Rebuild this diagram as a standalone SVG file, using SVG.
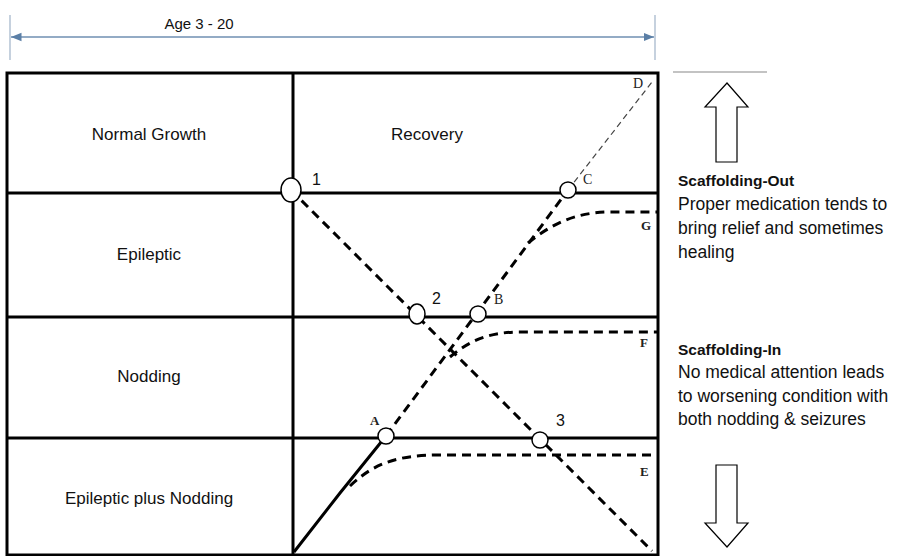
<svg xmlns="http://www.w3.org/2000/svg" width="899" height="556" viewBox="0 0 899 556">
<defs>
<style>
.lbl{font-family:"Liberation Sans",Arial,sans-serif;font-size:17px;fill:#111;text-anchor:middle}
.rt{font-family:"Liberation Sans",Arial,sans-serif;font-size:17.5px;fill:#111}
.rb{font-family:"Liberation Sans",Arial,sans-serif;font-size:15.5px;font-weight:bold;fill:#111}
.num{font-family:"Liberation Sans",Arial,sans-serif;font-size:16px;fill:#111}
.ser{font-family:"Liberation Serif","Times New Roman",serif;font-size:14px;fill:#222}
.serb{font-family:"Liberation Serif","Times New Roman",serif;font-size:13px;font-weight:bold;fill:#222}
.grid{stroke:#000;stroke-width:3;fill:none}
.dash{stroke:#000;stroke-width:3;fill:none;stroke-dasharray:9 6}
.thin{stroke:#444;stroke-width:1.2;fill:none;stroke-dasharray:6 4}
.pt{fill:#fff;stroke:#000;stroke-width:1.5}
.blk{fill:#fff;stroke:#000;stroke-width:1.2}
</style>
<marker id="ah" viewBox="0 0 10 10" refX="10" refY="5" markerWidth="7" markerHeight="7" orient="auto-start-reverse">
<path d="M0,1 L10,5 L0,9 z" fill="#5b7fa6"/>
</marker>
</defs>

<g id="age">
<line x1="10" y1="15" x2="10" y2="60" stroke="#9fb3c8" stroke-width="1.2"/>
<line x1="655" y1="15" x2="655" y2="60" stroke="#9fb3c8" stroke-width="1.2"/>
<line x1="11" y1="37" x2="654" y2="37" stroke="#6f8fb2" stroke-width="1.5" marker-start="url(#ah)" marker-end="url(#ah)"/>
<text x="199" y="29" class="lbl" style="font-size:15px">Age 3 - 20</text>
</g>

<g id="grid">
<rect x="7" y="73" width="651" height="482" class="grid"/>
<line x1="293" y1="73" x2="293" y2="555" class="grid"/>
<line x1="7" y1="193" x2="658" y2="193" class="grid"/>
<line x1="7" y1="317" x2="658" y2="317" class="grid"/>
<line x1="7" y1="438" x2="658" y2="438" class="grid"/>
</g>

<g id="row-labels">
<text x="149" y="140" class="lbl">Normal Growth</text>
<text x="427" y="140" class="lbl">Recovery</text>
<text x="149" y="260" class="lbl">Epileptic</text>
<text x="149" y="382" class="lbl">Nodding</text>
<text x="149" y="504" class="lbl">Epileptic plus Nodding</text>
</g>

<g id="connectors">
<path d="M291,190 L652,551" class="dash"/>
<path d="M386,436 L568,190" class="dash"/>
<path d="M568,190 L652,82" class="thin"/>
<path d="M294,552 L340,493 L386,436" stroke="#000" stroke-width="3" fill="none"/>
<path d="M350,486 C375,462 400,455 440,455 L658,455" class="dash"/>
<path d="M450,357 C470,340 490,332 520,332 L658,332" class="dash"/>
<path d="M528,243 C550,225 575,212 610,212 L658,212" class="dash"/>
</g>

<g id="p1"><ellipse cx="291" cy="190" rx="10" ry="12" class="pt"/><text x="312" y="185" class="num">1</text></g>
<g id="pC"><ellipse cx="568" cy="190" rx="8" ry="8" class="pt"/><text x="583" y="184" class="ser">C</text></g>
<g id="p2"><ellipse cx="417" cy="314" rx="8" ry="10" class="pt"/><text x="432" y="304" class="num">2</text></g>
<g id="pB"><ellipse cx="478" cy="314" rx="8" ry="8" class="pt"/><text x="494" y="304" class="ser">B</text></g>
<g id="pA"><ellipse cx="386" cy="436" rx="8" ry="8" class="pt"/><text x="370" y="425" class="serb">A</text></g>
<g id="p3"><ellipse cx="540" cy="440" rx="8" ry="8" class="pt"/><text x="556" y="426" class="num">3</text></g>
<g id="lD"><text x="633" y="88" class="ser">D</text></g>
<g id="lG"><text x="641" y="230" class="serb">G</text></g>
<g id="lF"><text x="640" y="347" class="serb">F</text></g>
<g id="lE"><text x="640" y="476" class="serb">E</text></g>

<g id="scaffold-out">
<line x1="673" y1="72" x2="767" y2="72" stroke="#888" stroke-width="1.2"/>
<path d="M727,83 L748,107 L737,107 L737,162 L716,162 L716,107 L705,107 Z" class="blk"/>
<text x="678" y="186" class="rb">Scaffolding-Out</text>
<text x="678" y="210" class="rt">Proper medication tends to</text>
<text x="678" y="234" class="rt">bring relief and sometimes</text>
<text x="678" y="258" class="rt">healing</text>
</g>

<g id="scaffold-in">
<text x="678" y="355" class="rb">Scaffolding-In</text>
<text x="678" y="378" class="rt">No medical attention leads</text>
<text x="678" y="402" class="rt">to worsening condition with</text>
<text x="678" y="425" class="rt">both nodding &amp; seizures</text>
<path d="M716,465 L737,465 L737,523 L748,523 L727,547 L705,523 L716,523 Z" class="blk"/>
</g>
</svg>
